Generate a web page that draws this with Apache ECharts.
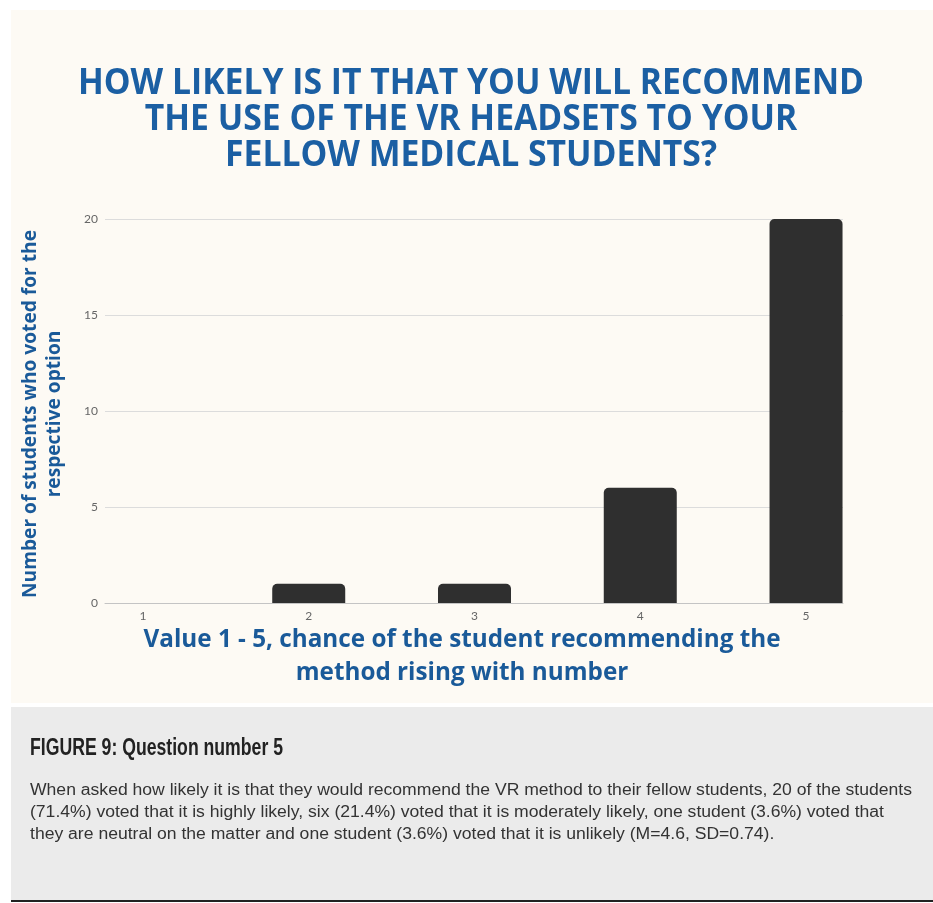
<!DOCTYPE html>
<html>
<head>
<meta charset="utf-8">
<script src="https://cdn.jsdelivr.net/npm/echarts@6/dist/echarts.min.js"></script>
<style>
  html, body { margin: 0; padding: 0; background: #ffffff; }
  #chart { width: 933px; height: 903px; }
</style>
</head>
<body>
<div id="chart"></div>
<script>
// Survey answers: rating 1-5 and the number of students choosing each
const categories = [1, 2, 3, 4, 5];
const votes = [0, 1, 1, 6, 20];
const yTicks = [0, 5, 10, 15, 20];

const titleLines = [
  'HOW LIKELY IS IT THAT YOU WILL RECOMMEND',
  'THE USE OF THE VR HEADSETS TO YOUR',
  'FELLOW MEDICAL STUDENTS?'
];
const xTitleLines = [
  'Value 1 - 5, chance of the student recommending the',
  'method rising with number'
];
const yTitleLines = [
  'Number of students who voted for the',
  'respective option'
];
const captionHeading = 'FIGURE 9: Question number 5';
const captionLines = [
  'When asked how likely it is that they would recommend the VR method to their fellow students, 20 of the students',
  '(71.4%) voted that it is highly likely, six (21.4%) voted that it is moderately likely, one student (3.6%) voted that',
  'they are neutral on the matter and one student (3.6%) voted that it is unlikely (M=4.6, SD=0.74).'
];

// Horizontal squeeze factor so a line of text spans a given width
const measureCtx = document.createElement('canvas').getContext('2d');
function squeeze(text, font, target) {
  measureCtx.font = font;
  return target / measureCtx.measureText(text).width;
}

function textEl(text, x, y, font, fill, align, scaleX, rotation) {
  return {
    type: 'text',
    x: x, y: y,
    scaleX: scaleX,
    rotation: rotation || 0,
    silent: true,
    style: {
      text: text, font: font, fill: fill,
      align: align, textAlign: align,
      verticalAlign: 'middle', textVerticalAlign: 'middle'
    }
  };
}

const BLUE = '#1b5fa3';
const AXIS_BLUE = '#1a5a99';
const titleFont = 'bold 36px "Open Sans"';
const xTitleFont = 'bold 25px "Open Sans"';
const yTitleFont = 'bold 19px "Open Sans"';
const headFont = 'bold 24px "Liberation Sans"';
const paraFont = '16px "Liberation Sans"';

const titleScale = squeeze(titleLines[0], titleFont, 786);
const xTitleScale = squeeze(xTitleLines[0], xTitleFont, 637);
const yTitleScale = squeeze(yTitleLines[0], yTitleFont, 368);
const headScale = squeeze(captionHeading, headFont, 253);
const paraScale = squeeze(captionLines[0], paraFont, 882);

const graphics = [
  { type: 'rect', silent: true, z: -10, shape: { x: 11, y: 10, width: 922, height: 693 }, style: { fill: '#fdfaf4' } },
  { type: 'rect', silent: true, z: -10, shape: { x: 11, y: 707, width: 922, height: 193 }, style: { fill: '#ebebeb' } },
  { type: 'rect', silent: true, z: -10, shape: { x: 11, y: 900, width: 922, height: 2 }, style: { fill: '#222222' } }
];
titleLines.forEach((t, i) => graphics.push(textEl(t, 471, 84 + i * 36, titleFont, BLUE, 'center', titleScale)));
xTitleLines.forEach((t, i) => graphics.push(textEl(t, 462, 640 + i * 33, xTitleFont, AXIS_BLUE, 'center', xTitleScale)));
yTitleLines.forEach((t, i) => graphics.push(textEl(t, 31 + i * 24, 414, yTitleFont, AXIS_BLUE, 'center', yTitleScale, Math.PI / 2)));
graphics.push(textEl(captionHeading, 30, 748, headFont, '#222222', 'left', headScale));
captionLines.forEach((t, i) => graphics.push(textEl(t, 30, 791 + i * 22, paraFont, '#333333', 'left', paraScale)));

const chart = echarts.init(document.getElementById('chart'), null, { renderer: 'canvas' });
chart.setOption({
  backgroundColor: '#ffffff',
  animation: false,
  grid: { left: 105, right: 90, top: 219, bottom: 300, containLabel: false },
  xAxis: {
    type: 'value',
    min: 0.771,
    max: 5.223,
    axisLine: { show: true, lineStyle: { color: '#c4c4c4', width: 1 } },
    axisTick: { show: false },
    splitLine: { show: false },
    axisLabel: {
      customValues: categories,
      color: '#666666',
      fontFamily: 'Lato',
      fontSize: 12,
      margin: 7
    }
  },
  yAxis: {
    type: 'value',
    min: yTicks[0],
    max: yTicks[yTicks.length - 1],
    interval: yTicks[1] - yTicks[0],
    axisLine: { show: false },
    axisTick: { show: false },
    splitLine: { lineStyle: { color: '#dcdcdc', width: 1 } },
    axisLabel: { color: '#666666', fontFamily: 'Lato', fontSize: 12, margin: 7 }
  },
  series: [{
    type: 'bar',
    data: categories.map((c, i) => [c, votes[i]]),
    barWidth: 73,
    itemStyle: { color: '#2f2f2f', borderRadius: [5, 5, 0, 0] },
    z: 3
  }],
  graphic: graphics
});
</script>
</body>
</html>
